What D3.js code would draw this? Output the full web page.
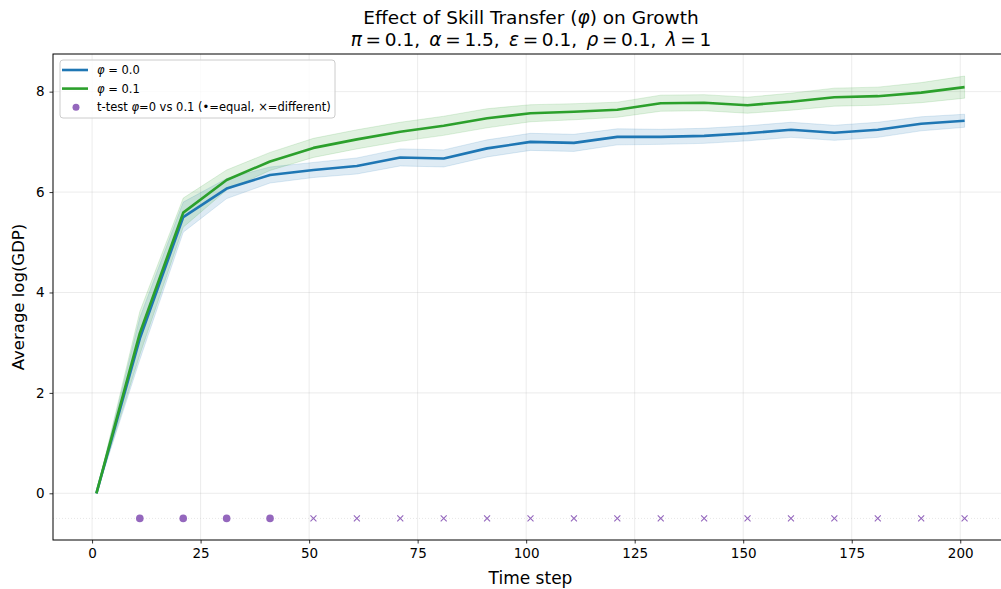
<!DOCTYPE html>
<html>
<head>
<meta charset="utf-8">
<script src="https://cdn.jsdelivr.net/npm/d3@7"></script>
<style>
  body { margin: 0; background: #fff; }
  svg text { font-family: "DejaVu Sans", sans-serif; }
</style>
</head>
<body>
<div id="plot"></div>
<script>
// time steps where the mean was recorded
var steps = [1, 11, 21, 31, 41, 51, 61, 71, 81, 91, 101, 111, 121, 131, 141, 151, 161, 171, 181, 191, 201];

// phi = 0.0
var meanPhi0 = [0, 3.08, 5.50, 6.07, 6.34, 6.44, 6.52, 6.69, 6.67, 6.87, 7.00, 6.98, 7.10, 7.10, 7.12, 7.17, 7.24, 7.18, 7.24, 7.36, 7.42];
var ciPhi0   = [0, 0.42, 0.30, 0.20, 0.16, 0.15, 0.16, 0.17, 0.17, 0.17, 0.17, 0.17, 0.16, 0.15, 0.15, 0.15, 0.15, 0.15, 0.15, 0.14, 0.13];

// phi = 0.1
var meanPhi1 = [0, 3.19, 5.59, 6.24, 6.61, 6.88, 7.05, 7.20, 7.32, 7.47, 7.57, 7.60, 7.64, 7.77, 7.78, 7.73, 7.80, 7.89, 7.91, 7.98, 8.09];
var ciPhi1   = [0, 0.43, 0.29, 0.20, 0.18, 0.19, 0.19, 0.19, 0.19, 0.19, 0.17, 0.16, 0.15, 0.16, 0.16, 0.16, 0.17, 0.18, 0.18, 0.20, 0.22];

// t-test result at each check step (true = equal, false = different)
var testSteps = [11, 21, 31, 41, 51, 61, 71, 81, 91, 101, 111, 121, 131, 141, 151, 161, 171, 181, 191, 201];
var testEqual = [true, true, true, true, false, false, false, false, false, false, false, false, false, false, false, false, false, false, false, false];
var testLevel = -0.5;

var xTicks = [0, 25, 50, 75, 100, 125, 150, 175, 200];
var yTicks = [0, 2, 4, 6, 8];

var blue = "#1f77b4", green = "#2ca02c", purple = "#9467bd";

var W = 1001, H = 589;
var margin = {top: 54, left: 53, right: 1008, bottom: 540};

var svg = d3.select("#plot")
  .append("svg")
    .attr("width", W)
    .attr("height", H);

var x = d3.scaleLinear()
    .domain([-9, 211])
    .range([margin.left, margin.right]);

var y = d3.scaleLinear()
    .domain([-0.93, 8.75])
    .range([margin.bottom, margin.top]);

// grid
svg.append("g")
  .selectAll("line")
  .data(xTicks)
  .enter()
  .append("line")
    .attr("x1", function(d) { return x(d); })
    .attr("x2", function(d) { return x(d); })
    .attr("y1", margin.top)
    .attr("y2", margin.bottom)
    .attr("stroke", "#b0b0b0")
    .attr("stroke-opacity", 0.3)
    .attr("stroke-width", 0.8);

svg.append("g")
  .selectAll("line")
  .data(yTicks)
  .enter()
  .append("line")
    .attr("x1", margin.left)
    .attr("x2", margin.right)
    .attr("y1", function(d) { return y(d); })
    .attr("y2", function(d) { return y(d); })
    .attr("stroke", "#b0b0b0")
    .attr("stroke-opacity", 0.3)
    .attr("stroke-width", 0.8);

// faint guide at the t-test row
svg.append("line")
    .attr("x1", margin.left)
    .attr("x2", margin.right)
    .attr("y1", y(testLevel))
    .attr("y2", y(testLevel))
    .attr("stroke", "#cccccc")
    .attr("stroke-opacity", 0.6)
    .attr("stroke-width", 0.8)
    .attr("stroke-dasharray", "1,2");

// bands and lines
var series = [
  {mean: meanPhi0, ci: ciPhi0, color: blue},
  {mean: meanPhi1, ci: ciPhi1, color: green}
];

var area = function(s) {
  return d3.area()
    .x(function(d, i) { return x(steps[i]); })
    .y0(function(d, i) { return y(s.mean[i] - s.ci[i]); })
    .y1(function(d, i) { return y(s.mean[i] + s.ci[i]); });
};

var line = function(s) {
  return d3.line()
    .x(function(d, i) { return x(steps[i]); })
    .y(function(d, i) { return y(s.mean[i]); });
};

series.forEach(function(s) {
  svg.append("path")
      .attr("d", area(s)(steps))
      .attr("fill", s.color)
      .attr("fill-opacity", 0.15)
      .attr("stroke", s.color)
      .attr("stroke-opacity", 0.15)
      .attr("stroke-width", 1);
});

series.forEach(function(s) {
  svg.append("path")
      .attr("d", line(s)(steps))
      .attr("fill", "none")
      .attr("stroke", s.color)
      .attr("stroke-width", 2.6)
      .attr("stroke-linejoin", "round");
});

// t-test markers
testSteps.forEach(function(t, i) {
  var cx = x(t), cy = y(testLevel);
  if (testEqual[i]) {
    svg.append("circle")
        .attr("cx", cx)
        .attr("cy", cy)
        .attr("r", 3.8)
        .attr("fill", purple);
  } else {
    svg.append("path")
        .attr("d", "M" + (cx - 3) + "," + (cy - 3) + "L" + (cx + 3) + "," + (cy + 3) +
                   "M" + (cx - 3) + "," + (cy + 3) + "L" + (cx + 3) + "," + (cy - 3))
        .attr("stroke", purple)
        .attr("stroke-width", 1.1);
  }
});

// axes
var xAxis = svg.append("g")
    .attr("transform", "translate(0," + margin.bottom + ")")
    .call(d3.axisBottom(x).tickValues(xTicks).tickSize(3.5).tickPadding(5));

var yAxis = svg.append("g")
    .attr("transform", "translate(" + margin.left + ",0)")
    .call(d3.axisLeft(y).tickValues(yTicks).tickSize(3.5).tickPadding(5));

[xAxis, yAxis].forEach(function(a) {
  a.select(".domain").remove();
  a.selectAll("text")
      .attr("font-size", "13.5px")
      .attr("fill", "#000")
      .style("font-family", "DejaVu Sans");
  a.selectAll("line").attr("stroke", "#000").attr("stroke-width", 0.8);
});

// spines
svg.append("rect")
    .attr("x", margin.left)
    .attr("y", margin.top)
    .attr("width", margin.right - margin.left)
    .attr("height", margin.bottom - margin.top)
    .attr("fill", "none")
    .attr("stroke", "#000")
    .attr("stroke-width", 1);

// axis labels
svg.append("text")
    .attr("x", (margin.left + margin.right) / 2)
    .attr("y", 584)
    .attr("text-anchor", "middle")
    .attr("font-size", "17px")
    .text("Time step");

svg.append("text")
    .attr("transform", "translate(24," + ((margin.top + margin.bottom) / 2) + ") rotate(-90)")
    .attr("text-anchor", "middle")
    .attr("font-size", "16.5px")
    .text("Average log(GDP)");

// title
svg.append("text")
    .attr("x", 531)
    .attr("y", 24)
    .attr("text-anchor", "middle")
    .attr("font-size", "18.5px")
    .html('Effect of Skill Transfer (<tspan font-style="italic">φ</tspan>) on Growth');

var params = [["π", "0.1"], ["α", "1.5"], ["ε", "0.1"], ["ρ", "0.1"], ["λ", "1"]];
var sub = svg.append("text")
    .attr("x", 531)
    .attr("y", 46)
    .attr("text-anchor", "middle")
    .attr("font-size", "18.5px");
params.forEach(function(p, i) {
  sub.append("tspan").attr("font-style", "italic").text(p[0]);
  sub.append("tspan").text("\u2009=\u2009" + p[1] + (i < params.length - 1 ? ",\u2002" : ""));
});

// legend
var lg = svg.append("g").attr("transform", "translate(60,60)");
lg.append("rect")
    .attr("width", 275)
    .attr("height", 58)
    .attr("rx", 3)
    .attr("fill", "#fff")
    .attr("fill-opacity", 0.8)
    .attr("stroke", "#cccccc")
    .attr("stroke-width", 1);

var legendItems = [
  {label: "φ", rest: " = 0.0", color: blue, kind: "line"},
  {label: "φ", rest: " = 0.1", color: green, kind: "line"},
  {label: "", rest: "", color: purple, kind: "dot"}
];

legendItems.forEach(function(d, i) {
  var gy = 10 + i * 18.6;
  if (d.kind === "line") {
    lg.append("line")
        .attr("x1", 2).attr("x2", 28)
        .attr("y1", gy).attr("y2", gy)
        .attr("stroke", d.color)
        .attr("stroke-width", 2.6);
    var t = lg.append("text")
        .attr("x", 37)
        .attr("y", gy + 4)
        .attr("font-size", "11.5px");
    t.append("tspan").attr("font-style", "italic").text(d.label);
    t.append("tspan").text(d.rest);
  } else {
    lg.append("circle")
        .attr("cx", 16).attr("cy", gy)
        .attr("r", 3.5)
        .attr("fill", d.color);
    lg.append("text")
        .attr("x", 37)
        .attr("y", gy + 4)
        .attr("font-size", "11.5px")
        .html('t-test <tspan font-style="italic">φ</tspan>=0 vs 0.1 (•=equal, ×=different)');
  }
});
</script>
</body>
</html>
